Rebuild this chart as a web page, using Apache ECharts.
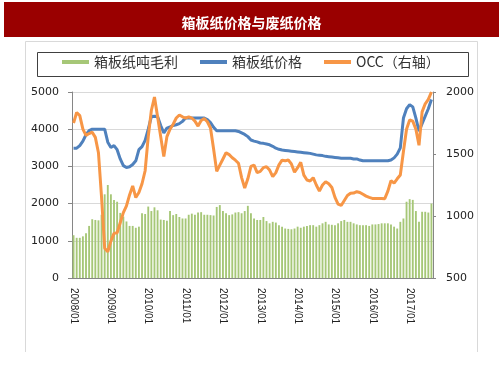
<!DOCTYPE html>
<html>
<head>
<meta charset="utf-8">
<title></title>
<script src="https://cdn.jsdelivr.net/npm/echarts@6/dist/echarts.min.js"></script>
<style>
*{ padding:0; margin:0; }
body{ background:#fff; }
#chart{ width:503px; height:378px; }
</style>
</head>
<body>
<div id="chart"></div>
<script>
// 月份: 2008/01 - 2017/08
var startYear = 2008;
var monthCount = 116;
var months = [];
for (var i = 0; i < monthCount; i++) {
    var y = startYear + Math.floor(i / 12);
    var m = i % 12 + 1;
    months.push(y + '/' + (m < 10 ? '0' + m : m));
}

// 箱板纸吨毛利 (左轴)
var grossProfit = [
    1150, 1080, 1080, 1120, 1200, 1400, 1580, 1560, 1550, 1700, 2250, 2500,
    2250, 2100, 2050, 1750, 1650, 1520, 1400, 1400, 1350, 1380, 1740, 1720,
    1920, 1800, 1900, 1820, 1570, 1560, 1540, 1800, 1690, 1720, 1640, 1600,
    1600, 1700, 1730, 1700, 1760, 1770, 1700, 1700, 1690, 1680, 1910, 1960,
    1800, 1740, 1690, 1710, 1760, 1770, 1740, 1800, 1940, 1740, 1600, 1560,
    1560, 1640, 1530, 1470, 1510, 1490, 1420, 1380, 1330, 1320, 1310, 1330,
    1380, 1350, 1380, 1400, 1420, 1420, 1380, 1420, 1470, 1510, 1440, 1430,
    1420, 1470, 1530, 1560, 1510, 1510, 1470, 1440, 1420, 1420, 1420, 1400,
    1440, 1440, 1450, 1470, 1470, 1470, 1440, 1380, 1330, 1510, 1600, 2050,
    2120, 2100, 1800, 1510, 1780, 1780, 1760, 2000
];

// 箱板纸价格 (左轴)
var boardPrice = [
    3490, 3490, 3560, 3680, 3850, 3960, 4000, 4000, 4000, 4000, 4000, 3650,
    3510, 3560, 3450, 3200, 3020, 2970, 2990, 3050, 3150, 3450, 3530, 3700,
    4000, 4340, 4350, 4340, 4100, 3900, 4030, 4060, 4100, 4120, 4150, 4210,
    4300, 4300, 4300, 4300, 4300, 4300, 4300, 4260, 4180, 4050, 3960, 3960,
    3960, 3960, 3960, 3960, 3960, 3940, 3900, 3860, 3800, 3710, 3680, 3660,
    3630, 3620, 3600, 3580, 3540, 3490, 3460, 3440, 3430, 3420, 3410, 3400,
    3390, 3380, 3370, 3360, 3350, 3330, 3310, 3300, 3290, 3270, 3260, 3250,
    3240, 3230, 3220, 3220, 3220, 3220, 3200, 3200, 3170, 3150, 3150, 3150,
    3150, 3150, 3150, 3150, 3150, 3150, 3170, 3230, 3330, 3500, 4300, 4550,
    4660, 4600, 4300, 3950, 4150, 4350, 4550, 4800
];

// OCC (右轴)
var occPrice = [
    1750, 1835, 1810, 1700, 1650, 1665, 1676, 1634, 1510, 1150, 740, 712,
    797, 860, 865, 946, 1027, 1081, 1170, 1243, 1149, 1189, 1260, 1365,
    1640, 1851, 1959, 1800, 1640, 1480, 1640, 1700, 1740, 1790, 1815, 1800,
    1790, 1800, 1790, 1765, 1725, 1770, 1785, 1760, 1710, 1540, 1360, 1410,
    1460, 1510, 1495, 1470, 1450, 1425, 1310, 1225, 1300, 1400, 1410, 1350,
    1360, 1390, 1398, 1370, 1317, 1350, 1412, 1450, 1445, 1452, 1420, 1353,
    1390, 1433, 1330, 1290, 1282, 1309, 1250, 1201, 1250, 1277, 1260, 1230,
    1150, 1095, 1085, 1125, 1165, 1183, 1185, 1196, 1190, 1175, 1160, 1150,
    1142, 1142, 1142, 1142, 1140, 1200, 1285, 1265, 1300, 1331, 1520, 1700,
    1775, 1765, 1700, 1570, 1840, 1905, 1940, 2000
];

var legendNames = ['箱板纸吨毛利', '箱板纸价格', 'OCC（右轴）'];

var chart = echarts.init(document.getElementById('chart'));
var labelFont = 'DejaVu Sans';
var cjkFont = 'Noto Sans CJK SC';
var plainNum = function (v) { return String(v); };

var option = {
    animation: false,
    backgroundColor: '#fff',
    title: {
        text: '箱板纸价格与废纸价格',
        left: 'center',
        top: 11,
        textStyle: { color: '#fff', fontSize: 14, fontWeight: 'bold', fontFamily: cjkFont }
    },
    graphic: [
        { type: 'rect', z: 0, shape: { x: 4, y: 2, width: 495, height: 35 }, style: { fill: '#9a0000' } },
        { type: 'polyline', z: 0, shape: { points: [[25.5, 352], [25.5, 41.5], [477.5, 41.5], [477.5, 352]] },
          style: { stroke: '#d9d9d9', fill: null, lineWidth: 1 } },
        // 图例外框
        { type: 'rect', z: 0, shape: { x: 37.5, y: 52.5, width: 431, height: 24 },
          style: { stroke: '#404040', fill: '#fff', lineWidth: 1 } }
    ],
    legend: {
        left: 62,
        top: 55,
        padding: 0,
        itemWidth: 27,
        itemHeight: 4,
        itemGap: 22,
        icon: 'rect',
        textStyle: { fontSize: 14, color: '#333', fontFamily: cjkFont },
        data: legendNames
    },
    grid: { left: 72, right: 70, top: 92, bottom: 100 },
    xAxis: {
        type: 'category',
        data: months,
        axisLine: { lineStyle: { color: '#868686' } },
        axisTick: { interval: 11, length: 5, lineStyle: { color: '#868686' } },
        axisLabel: { interval: 11, rotate: -90, margin: 10, color: '#222', fontSize: 10, fontFamily: 'Liberation Sans' }
    },
    yAxis: [
        {
            type: 'value', min: 0, max: 5000, interval: 1000,
            axisLine: { show: true, lineStyle: { color: '#868686' } },
            axisTick: { show: true, length: 4, lineStyle: { color: '#868686' } },
            axisLabel: { margin: 13, color: '#222', fontSize: 11, fontFamily: labelFont, formatter: plainNum },
            splitLine: { lineStyle: { color: '#d9d9d9' } }
        },
        {
            type: 'value', min: 500, max: 2000, interval: 500,
            axisLine: { show: true, lineStyle: { color: '#868686' } },
            axisTick: { show: true, length: 3, lineStyle: { color: '#868686' } },
            axisLabel: { margin: 13, color: '#222', fontSize: 11, fontFamily: labelFont, formatter: plainNum },
            splitLine: { show: false }
        }
    ],
    series: [
        {
            name: legendNames[0], type: 'bar', yAxisIndex: 0,
            barCategoryGap: '40%',
            itemStyle: { color: '#a6c777' },
            data: grossProfit
        },
        {
            name: legendNames[1], type: 'line', yAxisIndex: 0,
            symbol: 'none',
            lineStyle: { color: '#4f81bd', width: 3 },
            itemStyle: { color: '#4f81bd' },
            data: boardPrice
        },
        {
            name: legendNames[2], type: 'line', yAxisIndex: 1,
            symbol: 'none',
            lineStyle: { color: '#f79646', width: 3 },
            itemStyle: { color: '#f79646' },
            data: occPrice
        }
    ]
};
chart.setOption(option);
</script>
</body>
</html>
